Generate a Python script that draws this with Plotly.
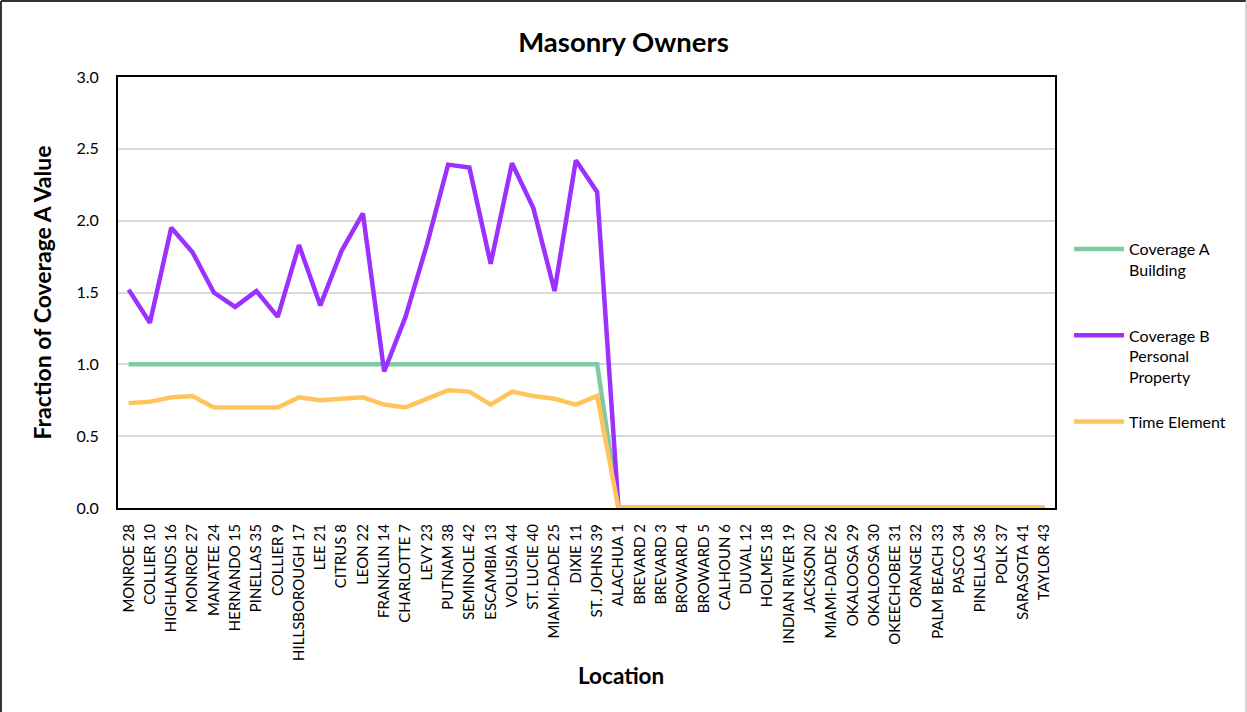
import plotly.graph_objects as go

locations = [
    "MONROE 28", "COLLIER 10", "HIGHLANDS 16", "MONROE 27", "MANATEE 24",
    "HERNANDO 15", "PINELLAS 35", "COLLIER 9", "HILLSBOROUGH 17", "LEE 21",
    "CITRUS 8", "LEON 22", "FRANKLIN 14", "CHARLOTTE 7", "LEVY 23",
    "PUTNAM 38", "SEMINOLE 42", "ESCAMBIA 13", "VOLUSIA 44", "ST. LUCIE 40",
    "MIAMI-DADE 25", "DIXIE 11", "ST. JOHNS 39", "ALACHUA 1", "BREVARD 2",
    "BREVARD 3", "BROWARD 4", "BROWARD 5", "CALHOUN 6", "DUVAL 12",
    "HOLMES 18", "INDIAN RIVER 19", "JACKSON 20", "MIAMI-DADE 26", "OKALOOSA 29",
    "OKALOOSA 30", "OKEECHOBEE 31", "ORANGE 32", "PALM BEACH 33", "PASCO 34",
    "PINELLAS 36", "POLK 37", "SARASOTA 41", "TAYLOR 43",
]

coverage_a = [1.0] * 23 + [0.0] * 21

coverage_b = [
    1.52, 1.29, 1.95, 1.78, 1.50, 1.40, 1.51, 1.33, 1.83, 1.41,
    1.79, 2.05, 0.95, 1.33, 1.83, 2.39, 2.37, 1.70, 2.40, 2.09,
    1.51, 2.42, 2.20,
] + [0.0] * 21

time_element = [
    0.73, 0.74, 0.77, 0.78, 0.70, 0.70, 0.70, 0.70, 0.77, 0.75,
    0.76, 0.77, 0.72, 0.70, 0.76, 0.82, 0.81, 0.72, 0.81, 0.78,
    0.76, 0.72, 0.78,
] + [0.0] * 21

y_ticks = [0.0, 0.5, 1.0, 1.5, 2.0, 2.5, 3.0]

FONT = "Lato"

series = [
    ("Coverage A<br>Building<br> <br> ", coverage_a, "#7FC9A3"),
    ("Coverage B<br>Personal<br>Property<br> ", coverage_b, "#9B30FF"),
    ("Time Element", time_element, "#FFC55C"),
]

fig = go.Figure()
for name, vals, color in series:
    fig.add_trace(go.Scatter(
        x=locations, y=vals, name=name, mode="lines",
        line=dict(color=color, width=4.5),
        legendgroup=name,
    ))

fig.update_layout(
    width=1247, height=712,
    margin=dict(l=118, r=192, t=77, b=204),
    paper_bgcolor="white", plot_bgcolor="white",
    font=dict(family=FONT, size=14, color="black"),
    title=dict(text="<b>Masonry Owners</b>", x=0.5, xref="container",
               y=0.941, yanchor="middle", font=dict(size=27.5, family=FONT)),
    showlegend=True,
    legend=dict(x=1.015, xanchor="left", y=0.64, yanchor="top",
                valign="top", itemwidth=50, tracegroupgap=0,
                font=dict(size=16, family=FONT)),
    xaxis=dict(
        type="category", range=[-0.5, 43.5], tickangle=-90,
        showgrid=False, ticks="", showline=True, linecolor="black",
        linewidth=2, mirror=True, tickfont=dict(size=15),
        ticklabelstandoff=8,
    ),
    yaxis=dict(
        range=[0, 3], tickvals=y_ticks, ticktext=[f"{v:.1f}" for v in y_ticks],
        showgrid=True, gridcolor="#D9D9D9", gridwidth=1.5, zeroline=False,
        showline=True, linecolor="black", linewidth=2, mirror=True,
        ticks="", tickfont=dict(size=16), ticklabelstandoff=14,
        title=dict(text="<b>Fraction of Coverage A Value</b>",
                   font=dict(size=23, family=FONT), standoff=18),
    ),
)

fig.add_annotation(
    text="<b>Location</b>", xref="paper", yref="paper",
    x=0.537, y=-0.388, xanchor="center", yanchor="middle",
    showarrow=False, font=dict(size=22.5, family=FONT),
)

# outer chart frame
fig.add_shape(type="line", xref="paper", yref="paper",
              x0=-0.1249, x1=-0.1249, y0=1.1765, y1=-0.48,
              line=dict(color="#333333", width=2))
fig.add_shape(type="line", xref="paper", yref="paper",
              x0=-0.1249, x1=1.2039, y0=1.1765, y1=1.1765,
              line=dict(color="#333333", width=2))
fig.add_shape(type="line", xref="paper", yref="paper",
              x0=1.2039, x1=1.2039, y0=1.1765, y1=-0.48,
              line=dict(color="#C8C8C8", width=1.5))

fig.write_html("out.html")
